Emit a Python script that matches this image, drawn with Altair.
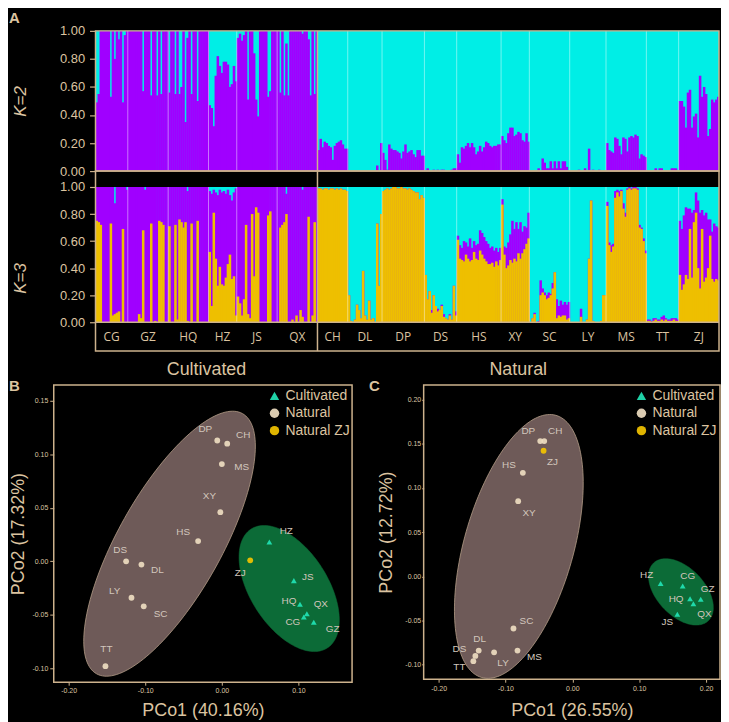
import numpy as np
import pandas as pd
import altair as alt

FONT = "Liberation Sans"
TAN = "#dcc4a0"
BORDER = "#cdb28d"
PURPLE = "#a000ff"
CYAN = "#00eee6"
YELLOW = "#eebf00"
LABEL = "#d2c6bc"

# ---------------- Panel A : membership proportions ----------------
CULTIVATED_POPS = ["CG", "GZ", "HQ", "HZ", "JS", "QX"]
NATURAL_POPS = ["CH", "DL", "DP", "DS", "HS", "XY", "SC", "LY", "MS", "TT", "ZJ"]
POPS = CULTIVATED_POPS + NATURAL_POPS

# K=2: share of the purple cluster per individual (rest = cyan)
K2_PURPLE = {
    "CG": [0.49, 0.55, 1, 1, 1, 1, 1, 0.53, 1, 0.80, 1, 0.94, 1, 0.49, 0.97, 1],
    "GZ": [1, 1, 1, 1, 1, 1, 1, 0.57, 1, 1, 1, 0.54, 1, 1, 0.54, 1, 0.55, 1, 1, 1],
    "HQ": [0.56, 1, 1, 0.55, 1, 0.55, 0.60, 1, 0.35, 0.95, 1, 0.55, 1, 1, 0.50, 1, 1, 1, 1, 1],
    "HZ": [0.47, 0.45, 0.32, 0.68, 0.82, 0.75, 0.70, 0.78, 0.78, 0.76, 0.60, 0.62, 0.75, 0.64],
    "JS": [0.95, 0.98, 0.93, 0.97, 1, 0.51, 1, 1, 0.84, 0.51, 0.39, 1, 1, 1, 1, 0.53, 0.57, 1, 1, 1],
    "QX": [1, 0.56, 1, 0.54, 0.91, 0.54, 1, 1, 1, 1, 1, 1, 0.98, 1, 1, 0.94, 0.54, 1, 0.55, 1],
    "CH": [0.15, 0.23, 0.17, 0.21, 0.20, 0.18, 0.17, 0.08, 0.18, 0.20, 0.21, 0.22, 0.19, 0.16, 0.16],
    "DL": [0, 0, 0, 0, 0, 0, 0, 0, 0, 0, 0, 0, 0, 0, 0.04, 0, 0.20],
    "DP": [0.13, 0.08, 0.01, 0.19, 0.16, 0.15, 0.15, 0.14, 0.13, 0.09, 0.14, 0.19, 0.13, 0.14, 0.15, 0.12, 0.10, 0.15, 0.15, 0.11, 0.11],
    "DS": [0, 0.02, 0, 0, 0.01, 0, 0.01, 0, 0.01, 0.01, 0, 0, 0, 0.01, 0.02, 0.02],
    "HS": [0.12, 0.06, 0.17, 0.16, 0.18, 0.20, 0.17, 0.20, 0.17, 0.12, 0.14, 0.18, 0.14, 0.17, 0.21, 0.20, 0.18, 0.17, 0.18, 0.18, 0.19, 0.19],
    "XY": [0.25, 0.22, 0.20, 0.27, 0.31, 0.31, 0.25, 0.26, 0.28, 0.27, 0.22, 0.21, 0.27, 0.21],
    "SC": [0, 0, 0, 0, 0.02, 0, 0.09, 0.06, 0.02, 0.02, 0.07, 0.02, 0.07, 0.02, 0.07, 0.02, 0.07, 0.07, 0.03, 0],
    "LY": [0, 0, 0, 0, 0.01, 0, 0, 0.02, 0, 0.16, 0, 0.01, 0, 0, 0.01, 0, 0, 0],
    "MS": [0.20, 0.15, 0.14, 0.13, 0.24, 0.23, 0.18, 0.12, 0.24, 0.23, 0.14, 0.24, 0.25, 0.24, 0.26, 0.25, 0.09, 0.12, 0.11, 0.10],
    "TT": [0, 0, 0, 0, 0.02, 0, 0.02, 0.02, 0, 0, 0, 0, 0.02, 0.02, 0.02, 0],
    "ZJ": [0.50, 0.50, 0.46, 0.31, 0.56, 0.58, 0.31, 0.39, 0.41, 0.24, 0.68, 0.53, 0.60, 0.55, 0.25, 0.30, 0.51, 0.49, 0.51, 0.53],
}

# K=3: share of the yellow cluster per individual
K3_YELLOW = {
    "CG": [0.75, 0.74, 0.72, 0, 0, 0, 0, 0.73, 0.05, 0.06, 0.07, 0.08, 0, 0.69, 0, 0],
    "GZ": [0, 0, 0, 0, 0, 0.06, 0.03, 0.68, 0, 0, 0, 0.73, 0, 0.01, 0, 0.75, 0.74, 0.72, 0, 0],
    "HQ": [0.71, 0, 0, 0.72, 0.02, 0.76, 0.74, 0.70, 0.74, 0.01, 0, 0.73, 0, 0, 0.75, 0, 0, 0, 0, 0],
    "HZ": [0.52, 0.12, 0.81, 0.47, 0.27, 0.41, 0.28, 0.27, 0.33, 0.43, 0.50, 0.32, 0.34, 0.05],
    "JS": [0.19, 0.14, 0.05, 0.17, 0.72, 0.06, 0.03, 0.80, 0.34, 0.85, 0.81, 0, 0, 0, 0, 0.79, 0.82, 0, 0, 0],
    "QX": [0, 0.70, 0.72, 0.74, 0.80, 0, 0, 0.02, 0, 0.05, 0, 0.09, 0.04, 0, 0, 0.78, 0, 0.05, 0.74, 0],
    "CH": [0.99, 0.99, 0.98, 0.99, 0.99, 0.98, 0.99, 0.99, 0.98, 0.99, 0.98, 0.99, 0.98, 0.98, 0.97],
    "DL": [0.20, 0.01, 0, 0.02, 0.13, 0.09, 0.03, 0.38, 0.05, 0.02, 0.16, 0.02, 0.03, 0, 0.73, 0.27, 0.80],
    "DP": [0.97, 0.98, 0.99, 0.98, 0.99, 1.0, 1.0, 0.99, 0.99, 1.0, 0.99, 0.99, 0.98, 0.99, 0.98, 0.97, 0.96, 0.96, 0.91, 0.94, 0.92],
    "DS": [0.35, 0.17, 0.23, 0.07, 0.20, 0.12, 0.08, 0.09, 0.12, 0.04, 0.03, 0.02, 0.05, 0.02, 0.27, 0.05],
    "HS": [0.61, 0.47, 0.46, 0.45, 0.50, 0.47, 0.45, 0.46, 0.52, 0.47, 0.46, 0.53, 0.50, 0.47, 0.45, 0.43, 0.43, 0.44, 0.41, 0.45, 0.42, 0.46],
    "XY": [0.87, 0.50, 0.40, 0.42, 0.46, 0.44, 0.47, 0.45, 0.51, 0.47, 0.51, 0.54, 0.58, 0.62],
    "SC": [0, 0.03, 0.06, 0, 0, 0.20, 0.22, 0.20, 0.17, 0.18, 0.20, 0.25, 0.37, 0.03, 0.05, 0.04, 0.05, 0.05, 0.02, 0.03],
    "LY": [0, 0, 0, 0, 0, 0.04, 0, 0, 0.02, 0.47, 0.90, 0.01, 0, 0, 0, 0.01, 0.20, 0.20],
    "MS": [0.86, 0.57, 0.52, 0.56, 0.92, 0.96, 0.93, 0.97, 0.84, 0.78, 0.98, 0.99, 0.98, 0.99, 0.99, 0.98, 0.70, 0.69, 0.60, 0.51],
    "TT": [0.01, 0.01, 0, 0.01, 0.02, 0.01, 0.01, 0.02, 0.01, 0.02, 0.01, 0.01, 0.01, 0.02, 0.01, 0.01],
    "ZJ": [0.35, 0.24, 0.28, 0.35, 0.32, 0.69, 0.33, 0.74, 0.81, 0.40, 0.25, 0.69, 0.30, 0.33, 0.40, 0.64, 0.32, 0.30, 0.32, 0.31],
}

# K=3: yellow + purple share per individual (rest = cyan)
K3_TOP = {
    "CG": [1, 1, 1, 1, 1, 1, 1, 1, 1, 0.88, 1, 1, 1, 1, 1, 0.98],
    "GZ": [1, 1, 1, 1, 1, 1, 1, 1, 0.98, 1, 1, 1, 1, 1, 1, 1, 1, 1, 1, 1],
    "HQ": [1, 1, 1, 1, 1, 1, 1, 1, 1, 0.97, 1, 1, 1, 1, 1, 1, 1, 1, 1, 1],
    "HZ": [0.97, 0.95, 0.98, 0.96, 0.94, 0.98, 0.96, 0.97, 0.95, 0.98, 0.94, 0.90, 0.96, 0.99],
    "JS": [1, 1, 1, 1, 1, 1, 1, 1, 1, 1, 1, 1, 1, 1, 1, 1, 1, 1, 1, 1],
    "QX": [1, 1, 1, 1, 0.95, 1, 1, 1, 1, 1, 1, 1, 0.98, 1, 1, 1, 1, 1, 1, 1],
    "CH": [0.99, 0.99, 0.98, 0.99, 0.99, 0.98, 0.99, 0.99, 0.98, 0.99, 0.98, 0.99, 0.98, 0.98, 0.97],
    "DL": [0.20, 0.01, 0, 0.02, 0.13, 0.09, 0.03, 0.38, 0.05, 0.02, 0.16, 0.02, 0.03, 0, 0.73, 0.27, 0.80],
    "DP": [0.97, 0.98, 0.99, 0.98, 0.99, 1.0, 1.0, 0.99, 0.99, 1.0, 0.99, 0.99, 0.98, 0.99, 0.98, 0.97, 0.96, 0.96, 0.91, 0.94, 0.92],
    "DS": [0.35, 0.17, 0.23, 0.09, 0.20, 0.12, 0.10, 0.09, 0.13, 0.06, 0.03, 0.02, 0.06, 0.02, 0.27, 0.08],
    "HS": [0.64, 0.57, 0.55, 0.60, 0.59, 0.56, 0.62, 0.55, 0.60, 0.57, 0.58, 0.68, 0.66, 0.63, 0.60, 0.58, 0.55, 0.56, 0.53, 0.55, 0.52, 0.55],
    "XY": [0.91, 0.56, 0.55, 0.59, 0.65, 0.75, 0.69, 0.74, 0.69, 0.74, 0.67, 0.71, 0.70, 0.81],
    "SC": [0, 0.03, 0.07, 0, 0.01, 0.31, 0.25, 0.22, 0.20, 0.22, 0.21, 0.29, 0.37, 0.17, 0.12, 0.16, 0.13, 0.15, 0.13, 0.15],
    "LY": [0, 0, 0, 0, 0, 0.10, 0, 0, 0.02, 0.47, 0.90, 0.01, 0, 0, 0, 0.01, 0.20, 0.20],
    "MS": [0.89, 0.59, 0.57, 0.58, 0.97, 0.98, 0.97, 0.98, 0.88, 0.81, 0.99, 1.0, 0.99, 1.0, 1.0, 0.99, 0.72, 0.70, 0.62, 0.53],
    "TT": [0.02, 0.02, 0.01, 0.03, 0.03, 0.02, 0.02, 0.04, 0.05, 0.03, 0.02, 0.02, 0.03, 0.03, 0.03, 0.02],
    "ZJ": [0.75, 0.69, 0.79, 0.85, 0.84, 0.84, 0.81, 0.83, 0.96, 0.90, 0.81, 0.83, 0.79, 0.81, 0.76, 0.76, 0.67, 0.73, 0.71, 0.70],
}

# ---------------- Panels B / C : PCoA ----------------
GROUPS = ["Cultivated", "Natural", "Natural ZJ"]
GROUP_COLORS = ["#22e3b4", "#eddcc0", "#f2c300"]
GROUP_SHAPES = ["triangle-up", "circle", "circle"]

B_NAMES = ["DP", "CH", "MS", "XY", "HS", "DS", "DL", "LY", "SC", "TT", "ZJ", "HZ", "JS", "HQ", "QX", "CG", "GZ"]
B_GROUP = ["Natural"] * 10 + ["Natural ZJ"] + ["Cultivated"] * 6
B_PCO1 = [-0.006, 0.007, 0.000, -0.002, -0.031, -0.125, -0.105, -0.118, -0.102, -0.152, 0.037, 0.062, 0.094, 0.102, 0.111, 0.107, 0.120]
B_PCO2 = [0.113, 0.110, 0.091, 0.046, 0.019, 0.000, -0.003, -0.034, -0.042, -0.098, 0.001, 0.018, -0.018, -0.040, -0.049, -0.052, -0.057]

C_NAMES = ["DP", "CH", "HS", "XY", "SC", "DL", "DS", "TT", "LY", "MS", "ZJ", "HZ", "CG", "HQ", "GZ", "QX", "JS"]
C_GROUP = ["Natural"] * 10 + ["Natural ZJ"] + ["Cultivated"] * 6
C_PCO1 = [-0.048, -0.042, -0.074, -0.081, -0.088, -0.140, -0.145, -0.148, -0.117, -0.082, -0.043, 0.132, 0.165, 0.176, 0.192, 0.181, 0.157]
C_PCO2 = [0.153, 0.153, 0.117, 0.085, -0.059, -0.084, -0.090, -0.096, -0.086, -0.084, 0.142, -0.008, -0.011, -0.0255, -0.026, -0.031, -0.043]

# label placement relative to each point (pixels: right, down)
B_LABEL_OFFSET = {"DP": (-12, -12), "CH": (16, -9), "MS": (20, 3), "XY": (-11, -16), "HS": (-15, -9),
                  "DS": (-6, -11), "DL": (16, 5), "LY": (-17, -7), "SC": (17, 8), "TT": (1, -17),
                  "ZJ": (-10, 13), "HZ": (17, -11), "JS": (14, -4), "HQ": (-11, -3), "QX": (14, -10),
                  "CG": (-11, 5), "GZ": (19, 7)}
C_LABEL_OFFSET = {"DP": (-12, -10), "CH": (11, -10), "HS": (-14, -8), "XY": (11, 12), "SC": (13, -8),
                  "DL": (1, -12), "DS": (-16, -7), "TT": (-14, 6), "LY": (9, 11), "MS": (17, 6),
                  "ZJ": (9, 11), "HZ": (-14, -8), "CG": (5, -10), "HQ": (-14, 0), "GZ": (7, -10),
                  "QX": (11, 10), "JS": (-10, 8)}

# group ellipses: centre (data units), semi-axes (px), rotation (deg)
B_ELLIPSES = {"Natural": (-0.0683, 0.0165, 150, 52, 60.7), "Cultivated": (0.0879, -0.0254, 71, 39, -57.4)}
C_ELLIPSES = {"Natural": (-0.080, 0.0338, 137, 55, 74.2), "Cultivated": (0.1624, -0.0176, 40, 24, -46.5)}

# ---------------- layout (pixels) ----------------
BAR_W = 627
LEFT_EXT = 42
K_W = BAR_W + LEFT_EXT
K2_H = 141
K3_UNIT = 136
K3_TOPGAP = 16
STRIP = 29
ROWGAP = 34
K3_H = K3_TOPGAP + K3_UNIT + STRIP + ROWGAP
BAR_OVERLAP = 0.25

# ---------------- build panel A ----------------
rows = []
i = 0
for p in POPS:
    assert len(K2_PURPLE[p]) == len(K3_YELLOW[p]) == len(K3_TOP[p]), p
    for a, b, c in zip(K2_PURPLE[p], K3_YELLOW[p], K3_TOP[p]):
        rows.append({"x0": i, "x1": i + 1 + BAR_OVERLAP, "pop": p, "base": 0.0, "k2": a, "y3": b, "t3": c})
        i += 1
N = i
bars = pd.DataFrame(rows)
bars.loc[bars.index[-1], "x1"] = N
counts = [len(K2_PURPLE[p]) for p in POPS]
starts = np.cumsum([0] + counts)
n_cult = int(starts[len(CULTIVATED_POPS)])

X_MIN = -LEFT_EXT * N / BAR_W
Y3_MAX = 1 + K3_TOPGAP / K3_UNIT
Y3_MIN = -(STRIP + ROWGAP) / K3_UNIT
Y_STRIP = -STRIP / K3_UNIT
Y_POP = -(STRIP / 2) / K3_UNIT
Y_GRP = -(STRIP + 19) / K3_UNIT

xs = alt.Scale(domain=[X_MIN, N], nice=False, zero=False)
ys2 = alt.Scale(domain=[0, 1], nice=False, zero=False)
ys3 = alt.Scale(domain=[Y3_MIN, Y3_MAX], nice=False, zero=False)

div_df = pd.DataFrame({"x": [float(s) for s in starts[1:-1] if s != n_cult], "y0": 0.0, "y1": 1.0})
pop_df = pd.DataFrame({"pop": POPS, "xc": (starts[:-1] + starts[1:]) / 2, "yl": Y_POP})
grp_df = pd.DataFrame({"name": ["Cultivated", "Natural"], "xc": [n_cult / 2, (n_cult + N) / 2], "yl": Y_GRP})


def X(field):
    return alt.X(f"{field}:Q", scale=xs, axis=None)


def k_axis(title):
    return alt.Axis(values=[0, 0.2, 0.4, 0.6, 0.8, 1.0], format=".2f", offset=-LEFT_EXT, domain=False,
                    grid=False, tickColor=BORDER, tickSize=6, tickWidth=1.2, labelColor=TAN, labelFont=FONT,
                    labelFontSize=13, labelPadding=5, title=title, titleColor=TAN, titleFont=FONT,
                    titleFontSize=17, titleFontWeight="normal", titleFontStyle="italic", titlePadding=30)


def letter(text, dx, offset):
    return alt.TitleParams(text=text, anchor="start", frame="group", dx=dx, offset=offset, fontSize=15,
                           fontWeight="bold", color=TAN, font=FONT)


AX2 = k_axis("K=2")
AX3 = k_axis("K=3")


def Y2(field):
    return alt.Y(f"{field}:Q", scale=ys2, axis=AX2)


def Y3(field):
    return alt.Y(f"{field}:Q", scale=ys3, axis=AX3)


frame2 = pd.DataFrame({"x0": [0], "x1": [N], "y0": [0.0], "y1": [1.0]})
cut2 = pd.DataFrame({"x": [n_cult], "y0": [0.0], "y1": [1.0]})

k2 = alt.layer(
    alt.Chart(frame2).mark_rect(color=CYAN).encode(x=X("x0"), x2="x1:Q", y=Y2("y0"), y2="y1:Q"),
    alt.Chart(bars).transform_filter("datum.k2 > 0").mark_rect(color=PURPLE).encode(
        x=X("x0"), x2="x1:Q", y=Y2("base"), y2="k2:Q"),
    alt.Chart(div_df).mark_rule(color="#ffffff", opacity=0.45, strokeWidth=1).encode(
        x=X("x"), y=Y2("y0"), y2="y1:Q"),
    alt.Chart(cut2).mark_rule(color=BORDER, strokeWidth=1.5).encode(x=X("x"), y=Y2("y0"), y2="y1:Q"),
    alt.Chart(frame2).mark_rect(fill="transparent", stroke=BORDER, strokeWidth=1.5).encode(
        x=X("x0"), x2="x1:Q", y=Y2("y0"), y2="y1:Q"),
).properties(width=K_W, height=K2_H, title=letter("A", -45, -1))

frame3 = pd.DataFrame({"x0": [0], "x1": [N], "y0": [0.0], "y1": [1.0]})
border3 = pd.DataFrame({"x0": [0], "x1": [N], "y0": [Y_STRIP], "y1": [Y3_MAX]})
hline3 = pd.DataFrame({"x0": [0], "x1": [N], "y": [0.0]})
cut3 = pd.DataFrame({"x": [n_cult], "y0": [Y_STRIP], "y1": [Y3_MAX]})

k3 = alt.layer(
    alt.Chart(frame3).mark_rect(color=CYAN).encode(x=X("x0"), x2="x1:Q", y=Y3("y0"), y2="y1:Q"),
    alt.Chart(bars).transform_filter("datum.t3 > 0").mark_rect(color=PURPLE).encode(
        x=X("x0"), x2="x1:Q", y=Y3("base"), y2="t3:Q"),
    alt.Chart(bars).transform_filter("datum.y3 > 0").mark_rect(color=YELLOW).encode(
        x=X("x0"), x2="x1:Q", y=Y3("base"), y2="y3:Q"),
    alt.Chart(div_df).mark_rule(color="#ffffff", opacity=0.45, strokeWidth=1).encode(
        x=X("x"), y=Y3("y0"), y2="y1:Q"),
    alt.Chart(hline3).mark_rule(color=BORDER, strokeWidth=1.5).encode(x=X("x0"), x2="x1:Q", y=Y3("y")),
    alt.Chart(cut3).mark_rule(color=BORDER, strokeWidth=1.5).encode(x=X("x"), y=Y3("y0"), y2="y1:Q"),
    alt.Chart(border3).mark_rect(fill="transparent", stroke=BORDER, strokeWidth=1.5).encode(
        x=X("x0"), x2="x1:Q", y=Y3("y0"), y2="y1:Q"),
    alt.Chart(pop_df).mark_text(color=TAN, fontSize=12, font="Open Sans").encode(
        x=X("xc"), y=Y3("yl"), text="pop:N"),
    alt.Chart(grp_df).mark_text(color=TAN, fontSize=18, font=FONT).encode(
        x=X("xc"), y=Y3("yl"), text="name:N"),
).properties(width=K_W, height=K3_H)


# ---------------- build panels B / C ----------------
def ellipse_df(cx, cy, a, b, ang, ppx, ppy, n=160):
    t = np.linspace(0, 2 * np.pi, n + 1)
    th = np.deg2rad(ang)
    dx = a * np.cos(t) * np.cos(th) - b * np.sin(t) * np.sin(th)
    dy = a * np.cos(t) * np.sin(th) + b * np.sin(t) * np.cos(th)
    return pd.DataFrame({"k": np.arange(n + 1), "x": cx + dx / ppx, "y": cy + dy / ppy})


HYPHEN = "(datum.value < 0 ? '-' : '') + format(abs(datum.value), '.2f')"


def pcoa(names, groups, px, py, offs, ells, xdom, ydom, w, h, xvals, yvals, xtitle, ytitle,
         ytick, ypad, ytpad, xtick, xpad, xtpad, legx, legy, let, let_dx):
    ppx = w / (xdom[1] - xdom[0])
    ppy = h / (ydom[1] - ydom[0])
    sx = alt.Scale(domain=xdom, nice=False, zero=False)
    sy = alt.Scale(domain=ydom, nice=False, zero=False)
    pts = pd.DataFrame({"name": names, "group": groups, "x": px, "y": py})
    pts["lx"] = [x + offs[n][0] / ppx for n, x in zip(names, px)]
    pts["ly"] = [y - offs[n][1] / ppy for n, y in zip(names, py)]
    en = ellipse_df(*ells["Natural"], ppx, ppy)
    ec = ellipse_df(*ells["Cultivated"], ppx, ppy)
    ax_x = alt.Axis(values=xvals, labelExpr=HYPHEN, grid=False, domain=False, tickColor=BORDER, tickSize=xtick,
                    labelColor=TAN, labelFont=FONT, labelFontSize=7, labelPadding=xpad, labelFlush=False,
                    title=xtitle, titleColor=TAN, titleFont=FONT, titleFontSize=18, titleFontWeight="normal",
                    titlePadding=xtpad)
    ax_y = alt.Axis(values=yvals, labelExpr=HYPHEN, grid=False, domain=False, tickColor=BORDER, tickSize=ytick,
                    labelColor=TAN, labelFont=FONT, labelFontSize=7, labelPadding=ypad, labelFlush=False,
                    title=ytitle, titleColor=TAN, titleFont=FONT, titleFontSize=18, titleFontWeight="normal",
                    titlePadding=ytpad)
    leg = alt.Legend(title=None, orient="none", legendX=legx, legendY=legy, labelColor=TAN, labelFont=FONT,
                     labelFontSize=14, symbolSize=90, symbolStrokeWidth=0, rowPadding=3.5, labelOffset=4,
                     padding=0)

    def PX(field):
        return alt.X(f"{field}:Q", scale=sx, axis=ax_x)

    def PY(field):
        return alt.Y(f"{field}:Q", scale=sy, axis=ax_y)

    layer = alt.layer(
        alt.Chart(en).mark_line(fill="#6e5a58", stroke="#b49e88", strokeWidth=0.8).encode(
            x=PX("x"), y=PY("y"), order="k:Q"),
        alt.Chart(ec).mark_line(fill="#0c6b37", stroke="#0c6b37", strokeWidth=0.5).encode(
            x=PX("x"), y=PY("y"), order="k:Q"),
        alt.Chart(pts).mark_point(filled=True, size=34, opacity=0.92).encode(
            x=PX("x"), y=PY("y"),
            color=alt.Color("group:N", scale=alt.Scale(domain=GROUPS, range=GROUP_COLORS), legend=leg),
            shape=alt.Shape("group:N", scale=alt.Scale(domain=GROUPS, range=GROUP_SHAPES), legend=leg)),
        alt.Chart(pts).mark_text(color=LABEL, fontSize=10, font=FONT).encode(
            x=PX("lx"), y=PY("ly"), text="name:N"),
    ).properties(width=w, height=h, view=alt.ViewBackground(stroke=BORDER, strokeWidth=1.5),
                 title=letter(let, let_dx, -9))
    return layer


b = pcoa(B_NAMES, B_GROUP, B_PCO1, B_PCO2, B_LABEL_OFFSET, B_ELLIPSES, [-0.2195, 0.17], [-0.113, 0.165],
         300, 299, [-0.2, -0.1, 0.0, 0.1], [-0.1, -0.05, 0.0, 0.05, 0.1, 0.15], "PCo1 (40.16%)", "PCo2 (17.32%)",
         4, 2, 4, 3, 1, 8, 215, 4, "B", -45)
c = pcoa(C_NAMES, C_GROUP, C_PCO1, C_PCO2, C_LABEL_OFFSET, C_ELLIPSES, [-0.2223, 0.2208], [-0.1164, 0.2165],
         298, 296, [-0.2, -0.1, 0.0, 0.1, 0.2], [-0.1, -0.05, 0.0, 0.05, 0.1, 0.15, 0.2], "PCo1 (26.55%)",
         "PCo2 (12.72%)", 2, 1, 9, 3, 2, 10, 212, 4, "C", -55)

bc = alt.hconcat(b, c, spacing=72, bounds="flush").resolve_legend(color="independent", shape="independent") \
    .resolve_scale(color="independent", shape="independent")

chart = alt.vconcat(
    k2, k3, bc, spacing=0, bounds="flush"
).resolve_legend(color="independent", shape="independent").resolve_scale(
    color="independent", shape="independent"
).properties(
    background="black", padding={"left": 0, "top": 0, "right": 0, "bottom": 0}
).configure_view(stroke="transparent")

chart.save("out.html", embed_options={"renderer": "svg", "actions": False})
